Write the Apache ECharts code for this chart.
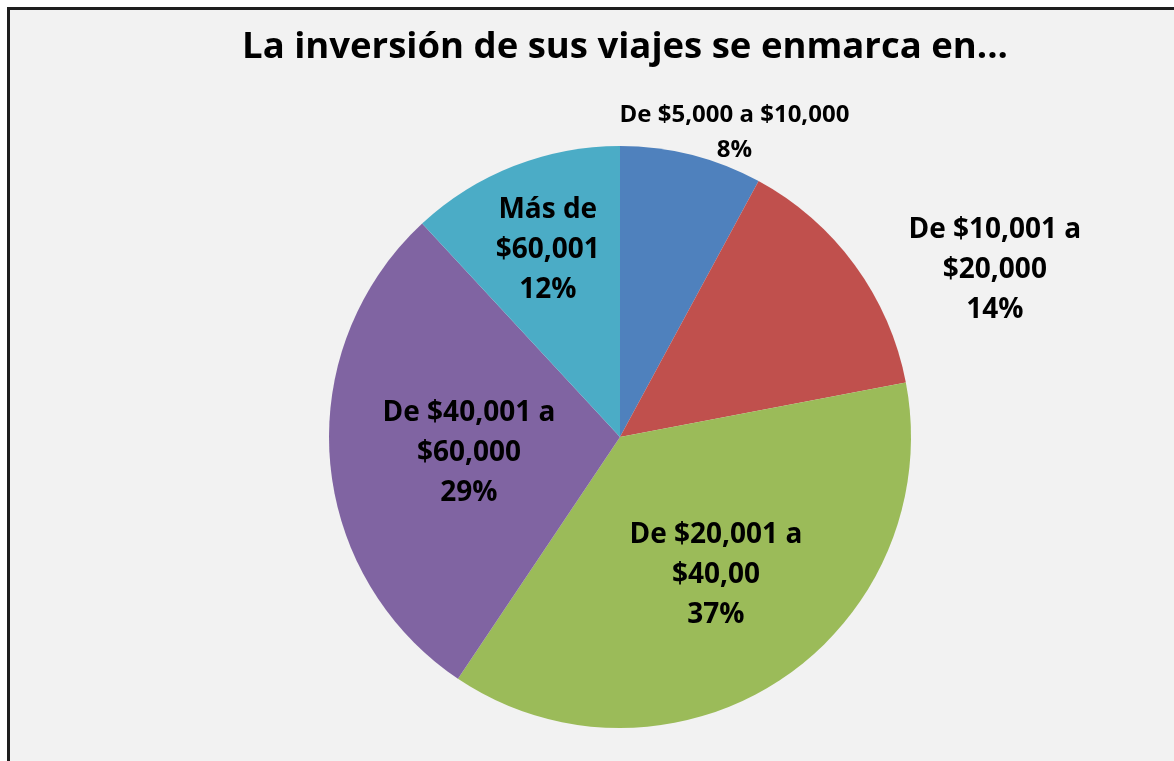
<!DOCTYPE html>
<html>
<head>
<meta charset="utf-8">
<script src="https://cdn.jsdelivr.net/npm/echarts@6/dist/echarts.min.js"></script>
<style>
  html, body { margin: 0; padding: 0; background: #fff; }
  #frame {
    position: absolute; left: 7px; top: 7px; right: 0; bottom: 0;
    border-left: 3px solid #1e1e1e; border-top: 3px solid #1e1e1e;
    background: #f2f2f2;
  }
  #chart { position: absolute; left: 0; top: 0; width: 1174px; height: 761px; }
</style>
</head>
<body>
<div id="frame"></div>
<div id="chart"></div>
<script>
const titleText = "La inversión de sus viajes se enmarca en..."
const categories = [
  "De $5,000 a $10,000",
  "De $10,001 a\n$20,000",
  "De $20,001 a\n$40,00",
  "De $40,001 a\n$60,000",
  "Más de\n$60,001"
]
// shares read from the slice edges; labels show them rounded
const values = [7.9, 14.1, 37.4, 28.7, 11.9]
const colors = ["#4f81bd", "#c0504d", "#9bbb59", "#8064a2", "#4bacc6"]

// label nudges from the default inside position (per slice)
const labelShift = [
  [78, -160],
  [255, -79],
  [14, 14],
  [-3, 4],
  [-18, -49]
]

const chart = echarts.init(document.getElementById("chart"), null, { renderer: "canvas" })

chart.setOption({
  backgroundColor: "transparent",
  animation: false,
  title: {
    text: titleText,
    left: 620,
    textAlign: "center",
    top: 24,
    textStyle: {
      fontFamily: "Open Sans",
      fontWeight: "bold",
      fontSize: 36.5,
      color: "#000"
    }
  },
  series: [
    {
      type: "pie",
      center: [620, 437],
      radius: 291,
      startAngle: 90,
      clockwise: true,
      label: {
        show: true,
        position: "inside",
        fontFamily: "Open Sans",
        fontWeight: "bold",
        fontSize: 28,
        lineHeight: 40,
        color: "#000",
        align: "center",
        formatter: p => p.name + "\n" + Math.round(p.percent) + "%"
      },
      labelLine: { show: false },
      labelLayout(params) {
        const s = labelShift[params.dataIndex]
        return { dx: s[0], dy: s[1] }
      },
      itemStyle: { borderWidth: 0 },
      emphasis: { disabled: true },
      data: categories.map((name, i) => ({
        name,
        value: values[i],
        itemStyle: { color: colors[i] },
        label: i === 0 ? { fontSize: 24, lineHeight: 35 } : undefined
      }))
    }
  ]
})
</script>
</body>
</html>
